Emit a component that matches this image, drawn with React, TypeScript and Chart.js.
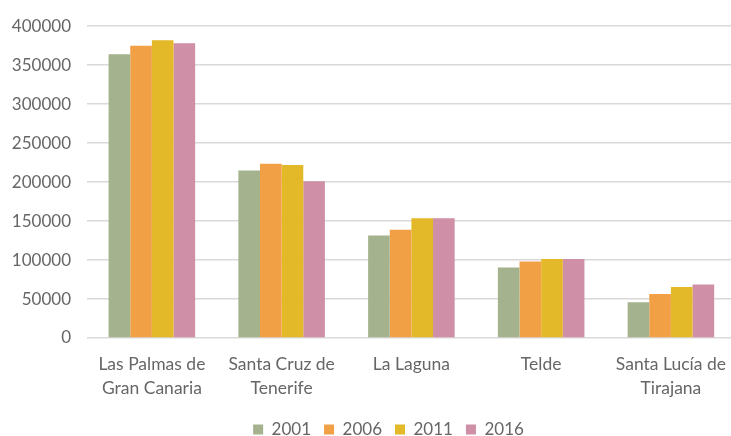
import React, { useEffect, useRef } from "react";
import { Chart, registerables } from "chart.js";

Chart.register(...registerables);

const categories: (string | string[])[] = [
  ["Las Palmas de", "Gran Canaria"],
  ["Santa Cruz de", "Tenerife"],
  "La Laguna",
  "Telde",
  ["Santa Lucía de", "Tirajana"],
];

const seriesNames = ["2001", "2006", "2011", "2016"];
const values2001 = [364000, 215000, 131500, 90500, 46000];
const values2006 = [375000, 223500, 139000, 98000, 56500];
const values2011 = [382000, 222000, 153500, 101500, 65500];
const values2016 = [378000, 201000, 153500, 101500, 68500];
const seriesColors = ["#a5b28e", "#f1a046", "#e3b92a", "#cf8fa6"];

const yMin = 0;
const yMax = 400000;
const yStep = 50000;

const legendShift = {
  id: "legendShift",
  afterLayout(chart: any) {
    if (chart.legend) {
      chart.legend.left = 37;
    }
  },
};

export default function App() {
  const ref = useRef<HTMLCanvasElement | null>(null);

  useEffect(() => {
    if (!ref.current) return;
    const allValues = [values2001, values2006, values2011, values2016];
    const chart = new Chart(ref.current, {
      type: "bar",
      data: {
        labels: categories,
        datasets: seriesNames.map((name, i) => ({
          label: name,
          data: allValues[i],
          backgroundColor: seriesColors[i],
          borderWidth: 0,
          categoryPercentage: 0.667,
          barPercentage: 1.0,
        })),
      },
      plugins: [legendShift],
      options: {
        responsive: false,
        animation: false,
        devicePixelRatio: 1,
        layout: { padding: { left: 0, right: 0, top: 15, bottom: 0 } },
        plugins: {
          legend: {
            position: "bottom",
            labels: {
              boxWidth: 10,
              boxHeight: 10,
              padding: 13,
              color: "#666666",
              font: { family: "Lato", size: 17 },
            },
          },
          tooltip: { enabled: false },
        },
        scales: {
          x: {
            grid: { display: false, drawTicks: false },
            border: { display: false },
            ticks: {
              color: "#666666",
              font: { family: "Lato", size: 17.5, lineHeight: 1.37 },
              padding: 14,
              maxRotation: 0,
              autoSkip: false,
            },
            afterFit: (s: any) => {
              s.height = 70;
            },
          },
          y: {
            min: yMin,
            max: yMax,
            ticks: {
              stepSize: yStep,
              color: "#666666",
              font: { family: "Lato", size: 17 },
              padding: 16,
              callback: (v: any) => String(v),
            },
            grid: { color: "#d9d9d9", lineWidth: 1.5, drawTicks: false },
            border: { display: false },
            afterFit: (s: any) => {
              s.width = 87;
            },
          },
        },
      },
    });
    return () => chart.destroy();
  }, []);

  return (
    <div
      style={{
        position: "fixed",
        left: 0,
        top: 0,
        width: 731,
        height: 436,
        overflow: "hidden",
        background: "#ffffff",
      }}
    >
      <canvas ref={ref} width={740} height={448} style={{ width: 740, height: 448, display: "block" }} />
    </div>
  );
}
